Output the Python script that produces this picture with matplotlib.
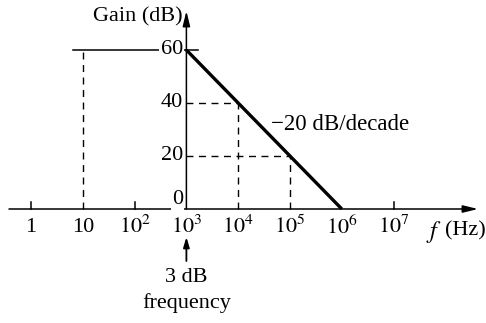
import matplotlib
matplotlib.use("Agg")
import matplotlib.pyplot as plt
import numpy as np

plt.rcParams['font.family'] = ['Liberation Serif', 'DejaVu Serif']
plt.rcParams['mathtext.fontset'] = 'stix'

# decade tick positions and labels
decades = [1, 10, 1e2, 1e3, 1e4, 1e5, 1e6, 1e7]
decade_labels = ['1', '10', r'$10^2$', r'$10^3$', r'$10^4$', r'$10^5$', r'$10^6$', r'$10^7$']
plain_ticks = [1, 1e2, 1e7]

# gain axis ticks
gain_ticks = [0, 20, 40, 60]

# asymptotic Bode magnitude
flat_f = [6.5, 1e3]
flat_gain = [60, 60]
slope_f = [1e3, 1e6]
slope_gain = [60, 0]

# dashed guide points (freq, gain)
guide_f = [10, 1e4, 1e5]
guide_gain = [60, 40, 20]

f3db = 1e3

# pixel -> data mapping (figure is 486x323, axes fill it)
px0, px_dec = 31.0, 51.8
py0, py_db = 209.0, 2.65
W, H = 486, 323

fig = plt.figure(figsize=(4.86, 3.23), dpi=100)
ax = fig.add_axes([0, 0, 1, 1])
ax.set_xscale('log')
ax.set_xlim(10 ** ((0 - px0) / px_dec), 10 ** ((W - px0) / px_dec))
ax.set_ylim((py0 - H) / py_db, py0 / py_db)
ax.axis('off')

def fx(px):
    return 10 ** ((px - px0) / px_dec)

def gy(py):
    return (py0 - py) / py_db

k = 'black'
# x axis with arrow
ax.annotate('', xy=(fx(478), 0), xytext=(fx(9), 0),
            arrowprops=dict(arrowstyle='-|>,head_length=0.9,head_width=0.22',
                            color=k, lw=1.1, shrinkA=0, shrinkB=0))
# y axis with arrow
ax.annotate('', xy=(f3db, gy(11)), xytext=(f3db, 0),
            arrowprops=dict(arrowstyle='-|>,head_length=0.9,head_width=0.22',
                            color=k, lw=1.1, shrinkA=0, shrinkB=0))

# x ticks
for t in plain_ticks:
    ax.plot([t, t], [0, 2.6], color=k, lw=1.1)
# small tick at 60 right of axis
ax.plot([f3db, fx(198)], [60, 60], color=k, lw=1.1)

for t, lab in zip(decades, decade_labels):
    ax.text(t, gy(227), lab, ha='center', va='center', fontsize=16)

for g in gain_ticks:
    ax.text(fx(183), g if g > 0 else gy(200), str(g), ha='right', va='center',
            fontsize=16, bbox=dict(facecolor='white', edgecolor='none', pad=1.0),
            zorder=3)

# response
ax.plot(flat_f, flat_gain, color=k, lw=1.1, zorder=1)
ax.plot(slope_f, slope_gain, color=k, lw=2.4, solid_capstyle='butt', zorder=4)

# dashed guides
for f, g in zip(guide_f, guide_gain):
    ax.plot([f, f], [0, g], color=k, lw=1.0, ls=(0, (5, 4)), zorder=2)
    if f > f3db:
        ax.plot([f3db, f], [g, g], color=k, lw=1.0, ls=(0, (5, 4)), zorder=2)

# labels
ax.text(fx(183), gy(17), 'Gain (dB)', ha='right', va='center', fontsize=16)
ax.text(fx(426), gy(232), r'$f$', ha='left', va='center', fontsize=17.5)
ax.text(fx(445), gy(231), '(Hz)', ha='left', va='center', fontsize=16)
ax.text(fx(271), gy(125), '\u221220 dB/decade', ha='left', va='center', fontsize=16.5)

ax.annotate('', xy=(f3db, gy(237)), xytext=(f3db, gy(261)),
            arrowprops=dict(arrowstyle='-|>,head_length=0.6,head_width=0.18',
                            color=k, lw=1.3, shrinkA=0, shrinkB=0))
ax.text(f3db, gy(278), '3 dB', ha='center', va='center', fontsize=16)
ax.text(f3db, gy(303), 'frequency', ha='center', va='center', fontsize=16)

fig.savefig('out.png', dpi=100)
